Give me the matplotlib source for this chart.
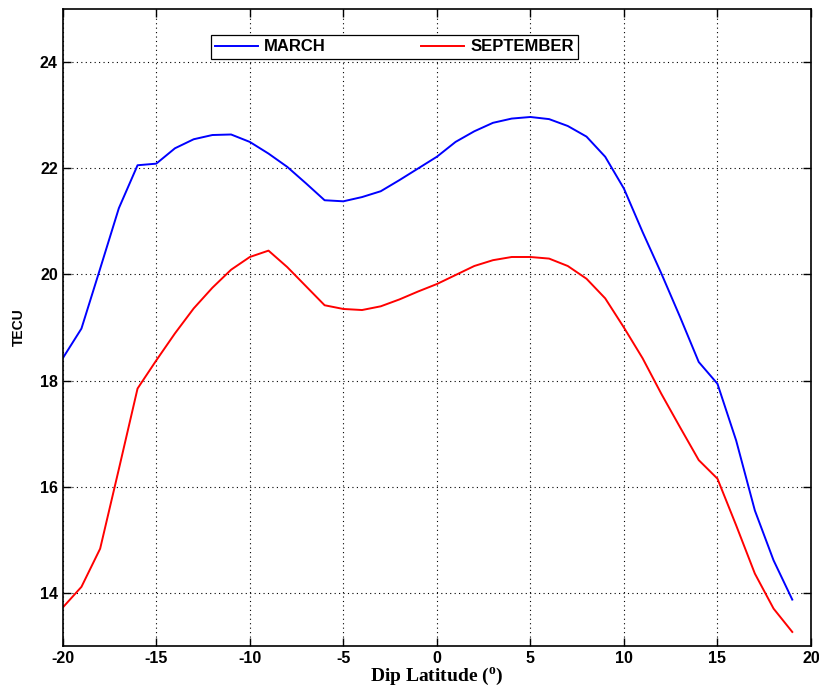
import matplotlib
matplotlib.use("Agg")
import matplotlib.pyplot as plt

plt.rcParams['axes.unicode_minus'] = False

# dip latitude (deg)
lat = list(range(-20, 20))

march = [18.42, 18.98, 20.11, 21.25, 22.06, 22.09, 22.38, 22.55, 22.63, 22.64,
         22.50, 22.28, 22.03, 21.72, 21.40, 21.38, 21.46, 21.57, 21.78, 22.00,
         22.22, 22.50, 22.70, 22.86, 22.94, 22.97, 22.93, 22.80, 22.60, 22.22,
         21.62, 20.80, 20.02, 19.20, 18.35, 17.94, 16.87, 15.55, 14.61, 13.87]

september = [13.72, 14.11, 14.83, 16.33, 17.85, 18.38, 18.89, 19.36, 19.75, 20.09,
             20.33, 20.45, 20.14, 19.78, 19.42, 19.35, 19.33, 19.40, 19.53, 19.68,
             19.82, 19.99, 20.16, 20.27, 20.33, 20.33, 20.30, 20.16, 19.92, 19.55,
             19.00, 18.42, 17.75, 17.12, 16.50, 16.15, 15.27, 14.36, 13.70, 13.26]

xticks = [-20, -15, -10, -5, 0, 5, 10, 15, 20]
yticks = [14, 16, 18, 20, 22, 24]

fig = plt.figure(figsize=(8.2, 6.86), dpi=100)
ax = fig.add_axes([0.0765, 0.0587, 0.9125, 0.9277])

ax.plot(lat, march, color="#0000ff", lw=1.4, label="MARCH")
ax.plot(lat, september, color="#ff0000", lw=1.4, label="SEPTEMBER")

ax.set_xlim(-20, 20)
ax.set_ylim(13, 25)
ax.set_xticks(xticks)
ax.set_yticks(yticks)
ax.grid(True, color="black", linestyle=(0, (1, 3)), linewidth=0.8)
ax.tick_params(direction="in", length=6, width=1, top=True, right=True,
               labelsize=11.5)
for lab in ax.get_xticklabels() + ax.get_yticklabels():
    lab.set_fontweight("bold")
    lab.set_fontfamily("Liberation Sans")
for sp in ax.spines.values():
    sp.set_linewidth(1.2)

ax.set_ylabel("TECU", fontsize=10, fontweight="bold", family="Liberation Sans",
              labelpad=10)
ax.set_xlabel("Dip Latitude ($\\mathregular{^o}$)", fontsize=14, fontweight="bold",
              family="Liberation Serif", labelpad=0)

leg = ax.legend(loc="center", bbox_to_anchor=(0.443, 0.941), ncol=2,
                fancybox=False, edgecolor="black", framealpha=1,
                handlelength=2.6, handletextpad=0.36, columnspacing=5.7,
                borderpad=0.25, prop={"family": "Liberation Sans", "weight": "bold",
                                      "size": 12})
leg.get_frame().set_linewidth(0.9)

fig.savefig("out.png", dpi=100)
